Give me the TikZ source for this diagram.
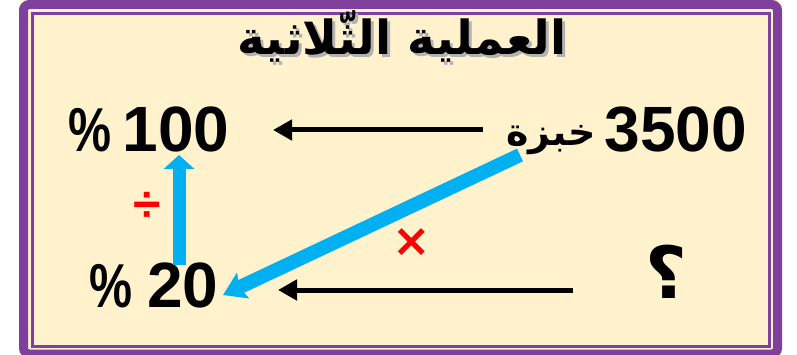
\documentclass[tikz,border=0pt]{standalone}
\usepackage{fontspec}
\usepackage{graphicx}
\setmainfont{Liberation Sans}
\newfontfamily\arabicfont[Script=Arabic]{DejaVu Sans}
\TeXXeTstate=1
\usetikzlibrary{arrows.meta,positioning}
\definecolor{tpPurple}{HTML}{7E3F9D}
\definecolor{tpCream}{HTML}{FFF2CC}
\definecolor{tpBlue}{HTML}{00B0F0}
\definecolor{tpRed}{HTML}{FF0000}

\begin{document}
\begin{tikzpicture}[x=1pt,y=-1pt,
  every node/.style={inner sep=0pt,anchor=base},
  bignum/.style={font=\fontsize{64}{70}\selectfont\bfseries},
  pctsign/.style={font=\fontsize{62}{66}\selectfont\bfseries},
  titletext/.style={font=\fontsize{47}{52}\selectfont\arabicfont\bfseries},
  blackarrow/.style={-{Triangle[length=19pt,width=20pt]},line width=5pt,black},
  bluearrow/.style={line width=14pt,tpBlue}]
  \useasboundingbox (0,0) rectangle (797,355);
  \fill[tpCream,rounded corners=6pt] (19,0) rectangle (782,358);
  \draw[tpPurple,line width=9pt,rounded corners=6pt] (23.5,4.5) rectangle (777.5,354);
  \draw[tpPurple,line width=3pt] (32.5,13.5) rectangle (769.5,346);

  \node[titletext,gray!60] (titleshadow) at (405,58) {\beginR العملية الثّلاثية\endR};
  \node[titletext] (title) at (402,55) {\beginR العملية الثّلاثية\endR};

  \node[bignum] (n100) at (176,152) {100};
  \node[pctsign] (pct100) at (90,152) {\scalebox{0.78}[1]{\%}};
  \node[bignum] (n20) at (183,307) {20};
  \node[pctsign] (pct20) at (111,307) {\scalebox{0.78}[1]{\%}};
  \node[bignum] (n3500) at (676,152) {3500};
  \node (bread) at (551,146) {\fontsize{38}{42}\selectfont\arabicfont\bfseries\beginR خبزة\endR};
  \node (qmark) at (666,298) {\fontsize{72}{76}\selectfont\arabicfont\bfseries ؟};

  \node[tpRed] (divsign) at (147,222) {\fontsize{50}{54}\selectfont\bfseries ÷};
  \node[tpRed] (timessign) at (412,256) {\fontsize{46}{50}\selectfont\arabicfont\bfseries ×};

  \coordinate (topfrom) at (483,130);
  \coordinate (topto) at (273,130);
  \coordinate (botfrom) at (573,290);
  \coordinate (botto) at (278,290);
  \coordinate (divfrom) at (179,265);
  \coordinate (divto) at (179,155);
  \coordinate (mulfrom) at (520,155);
  \coordinate (multo) at (223,295);

  \draw[blackarrow] (topfrom) -- (topto);
  \draw[blackarrow] (botfrom) -- (botto);
  \draw[bluearrow,line width=13pt,-{Triangle[length=14pt,width=30pt]}] (divfrom) -- (divto);
  \draw[bluearrow,-{Stealth[length=22pt,width=28pt,inset=4pt]}] (mulfrom) -- (multo);
\end{tikzpicture}
\end{document}
